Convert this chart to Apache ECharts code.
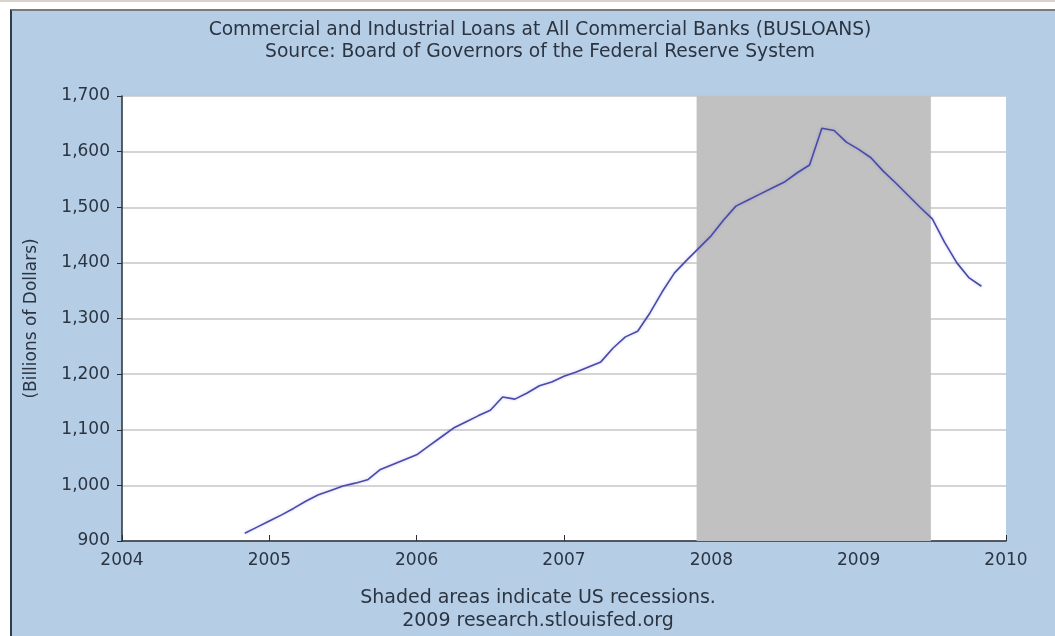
<!DOCTYPE html>
<html>
  <head>
    <meta charset="utf-8">
    <title>BUSLOANS</title>
    <script src="https://cdn.jsdelivr.net/npm/echarts@6/dist/echarts.min.js"></script>
    <style>
      body { margin: 0; background: #fff; }
      #topline { position: absolute; left: 0; top: 0; width: 1055px; height: 2px; background: #d9d4cb; }
      #panel {
        position: absolute; left: 10px; top: 9px; width: 1043px; height: 625px;
        background: #b5cee6; border-left: 2px solid #2f3d4f; border-top: 2px solid #7a7a7a;
      }
      #chart { position: absolute; left: 0; top: 0; width: 1055px; height: 636px; }
    </style>
  </head>
  <body>
    <div id="topline"></div>
    <div id="panel"></div>
    <div id="chart"></div>
    <script>
      // monthly observations, billions of dollars
      var months = [
        '2004-11', '2004-12',
        '2005-01', '2005-02', '2005-03', '2005-04', '2005-05', '2005-06',
        '2005-07', '2005-08', '2005-09', '2005-10', '2005-11', '2005-12',
        '2006-01', '2006-02', '2006-03', '2006-04', '2006-05', '2006-06',
        '2006-07', '2006-08', '2006-09', '2006-10', '2006-11', '2006-12',
        '2007-01', '2007-02', '2007-03', '2007-04', '2007-05', '2007-06',
        '2007-07', '2007-08', '2007-09', '2007-10', '2007-11', '2007-12',
        '2008-01', '2008-02', '2008-03', '2008-04', '2008-05', '2008-06',
        '2008-07', '2008-08', '2008-09', '2008-10', '2008-11', '2008-12',
        '2009-01', '2009-02', '2009-03', '2009-04', '2009-05', '2009-06',
        '2009-07', '2009-08', '2009-09', '2009-10', '2009-11'
      ];
      var loans = [
        914, 925,
        936, 947, 959, 972, 983, 991,
        999, 1004, 1010, 1028, 1037, 1046,
        1055, 1071, 1087, 1103, 1114, 1125,
        1135, 1159, 1155, 1166, 1179, 1186,
        1196, 1204, 1213, 1222, 1247, 1267,
        1277, 1310, 1348, 1382, 1405, 1427,
        1449, 1477, 1502, 1513, 1524, 1535,
        1546, 1562, 1576, 1642, 1638, 1617,
        1604, 1589, 1565, 1544, 1522, 1500,
        1479, 1437, 1400, 1373, 1358
      ];
      // recession: Dec 2007 - Jun 2009 (decimal years)
      var recession = [2007.9, 2009.49];
      var yearTicks = [2004, 2005, 2006, 2007, 2008, 2009, 2010];

      var titleLines = [
        'Commercial and Industrial Loans at All Commercial Banks (BUSLOANS)',
        'Source: Board of Governors of the Federal Reserve System'
      ];
      var footLines = [
        'Shaded areas indicate US recessions.',
        '2009 research.stlouisfed.org'
      ];

      function toYear(m) {
        var p = m.split('-');
        return +p[0] + (+p[1] - 1) / 12;
      }

      var font = 'DejaVu Sans';
      var txt = '#2b3440';

      function label(text, x, y, size) {
        return {
          type: 'text', x: x, y: y, silent: true,
          style: {
            text: text, fill: txt, fontFamily: font, fontSize: size,
            align: 'center', verticalAlign: 'middle'
          }
        };
      }

      var chart = echarts.init(document.getElementById('chart'));
      chart.setOption({
        animation: false,
        textStyle: { fontFamily: font },
        graphic: [
          label(titleLines[0], 540, 30, 18.7),
          label(titleLines[1], 540, 52, 18.7),
          label(footLines[0], 538, 598, 19),
          label(footLines[1], 538, 621, 19)
        ],
        grid: {
          left: 122, right: 49, top: 96, bottom: 95,
          show: true, backgroundColor: '#ffffff', borderWidth: 0
        },
        xAxis: {
          type: 'value',
          min: yearTicks[0], max: yearTicks[yearTicks.length - 1], interval: 1,
          axisLine: { lineStyle: { color: '#2a2f38', width: 1.5 } },
          axisTick: { inside: true, length: 6, lineStyle: { color: '#2a2f38' } },
          axisLabel: { fontSize: 17, color: txt, margin: 11, formatter: function (v) { return String(v); } },
          splitLine: { show: false }
        },
        yAxis: {
          type: 'value',
          min: 900, max: 1700, interval: 100,
          name: '(Billions of Dollars)',
          nameLocation: 'middle',
          nameGap: 82,
          nameTextStyle: { fontSize: 17, color: txt },
          axisLine: { show: true, lineStyle: { color: '#2a2f38', width: 1.5 } },
          axisTick: { show: true, length: 5, lineStyle: { color: '#2a2f38' } },
          axisLabel: {
            fontSize: 17, color: txt, margin: 12,
            formatter: function (v) { return v.toLocaleString('en-US'); }
          },
          splitLine: { lineStyle: { color: '#c6c6c6', width: 1.5 } }
        },
        series: [{
          type: 'line',
          data: months.map(function (m, i) { return [toYear(m), loans[i]]; }),
          showSymbol: false,
          lineStyle: { color: '#4a4aa8', width: 1.6, shadowColor: 'rgba(90,90,220,0.35)', shadowBlur: 3 },
          markArea: {
            silent: true,
            itemStyle: { color: '#c1c1c1' },
            data: [[{ xAxis: recession[0] }, { xAxis: recession[1] }]]
          }
        }]
      });
    </script>
  </body>
</html>
